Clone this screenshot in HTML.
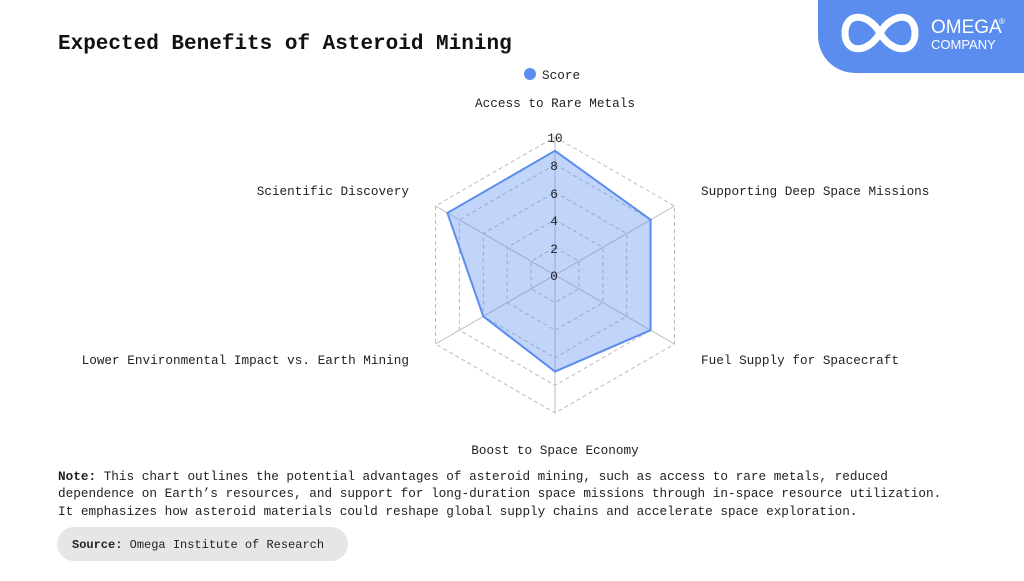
<!DOCTYPE html>
<html><head><meta charset="utf-8"><style>
body{margin:0;width:1024px;height:576px;background:#fff;overflow:hidden;font-family:"Liberation Mono",monospace;}
</style></head><body>
<svg width="1024" height="576" xmlns="http://www.w3.org/2000/svg" font-family="Liberation Mono, monospace">
<rect width="1024" height="576" fill="#fff"/>
<path d="M818 0 H1024 V73 H855 A37 37 0 0 1 818 36 Z" fill="#5b8def"/>
<path d="M845 33 C845 12 868 12 880 33 C892 54 915 54 915 33 C915 12 892 12 880 33 C868 54 845 54 845 33 Z" fill="none" stroke="#fff" stroke-width="7"/>
<text x="931" y="33" font-family="Liberation Sans, sans-serif" font-size="19" fill="#fff">OMEGA</text>
<text x="999" y="24" font-family="Liberation Sans, sans-serif" font-size="8" fill="#fff">®</text>
<text x="931" y="49" font-family="Liberation Sans, sans-serif" font-size="13" fill="#fff">COMPANY</text>
<text x="58" y="49" font-size="21" font-weight="bold" fill="#111">Expected Benefits of Asteroid Mining</text>
<circle cx="530" cy="74" r="6" fill="#5b8def"/>
<text x="542" y="79" font-size="12.7" fill="#222">Score</text>
<g fill="none" stroke="#bbb" stroke-dasharray="4,3" stroke-width="1">
<polygon points="555,137 674.5,206 674.5,344 555,413 435.5,344 435.5,206"/>
<polygon points="555,164.6 650.6,219.8 650.6,330.2 555,385.4 459.4,330.2 459.4,219.8"/>
<polygon points="555,192.2 626.7,233.6 626.7,316.4 555,357.8 483.3,316.4 483.3,233.6"/>
<polygon points="555,219.8 602.8,247.4 602.8,302.6 555,330.2 507.2,302.6 507.2,247.4"/>
<polygon points="555,247.4 578.9,261.2 578.9,288.8 555,302.6 531.1,288.8 531.1,261.2"/>
</g>
<g stroke="#bbb" stroke-width="1">
<line x1="555" y1="275" x2="555" y2="137"/><line x1="555" y1="275" x2="674.5" y2="206"/>
<line x1="555" y1="275" x2="674.5" y2="344"/><line x1="555" y1="275" x2="555" y2="413"/>
<line x1="555" y1="275" x2="435.5" y2="344"/><line x1="555" y1="275" x2="435.5" y2="206"/>
</g>
<polygon points="555,150.8 650.6,219.8 650.6,330.2 555,371.6 483.3,316.4 447.4,212.9" fill="rgba(91,141,239,0.38)" stroke="#5b8def" stroke-width="2"/>
<g font-size="12.7" fill="#222" text-anchor="middle">
<text x="555" y="142">10</text><text x="554" y="170">8</text><text x="554" y="198">6</text><text x="554" y="225">4</text><text x="554" y="253">2</text><text x="554" y="280">0</text>
<text x="555" y="107">Access to Rare Metals</text>
<text x="555" y="454">Boost to Space Economy</text>
</g>
<g font-size="12.7" fill="#222">
<text x="701" y="195">Supporting Deep Space Missions</text>
<text x="701" y="364">Fuel Supply for Spacecraft</text>
<text x="409" y="195" text-anchor="end">Scientific Discovery</text>
<text x="409" y="364" text-anchor="end">Lower Environmental Impact vs. Earth Mining</text>
</g>
<g font-size="12.7" fill="#222">
<text x="58" y="480"><tspan font-weight="bold">Note:</tspan> This chart outlines the potential advantages of asteroid mining, such as access to rare metals, reduced</text>
<text x="58" y="497">dependence on Earth’s resources, and support for long-duration space missions through in-space resource utilization.</text>
<text x="58" y="515">It emphasizes how asteroid materials could reshape global supply chains and accelerate space exploration.</text>
</g>
<rect x="57" y="527" width="291" height="34" rx="17" fill="#e6e6e6"/>
<text x="72" y="548" font-size="12" fill="#222"><tspan font-weight="bold">Source:</tspan> Omega Institute of Research</text>
</svg>
</body></html>
